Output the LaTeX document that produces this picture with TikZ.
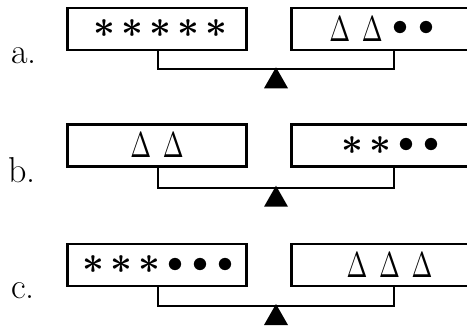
\documentclass[tikz,border=0pt]{standalone}
\usepackage{graphicx}
\usepackage{tikz}

\newcommand\symast{\makebox[28pt]{$\vcenter{\hbox{\boldmath\scalebox{3.8}{$\ast$}}}$}}
\newcommand\symdot{\makebox[25pt]{$\vcenter{\hbox{\scalebox{3.2}{$\bullet$}}}$}}
\newcommand\symtri{\makebox[32.5pt]{$\vcenter{\hbox{\scalebox{2.5}[3.6]{$\Delta$}}}$}}

\tikzset{
  pan/.style={draw, line width=2.2pt, minimum width=179pt, minimum height=42pt,
    inner sep=0pt},
  beam/.style={line width=2.2pt},
  tag/.style={anchor=base west, inner sep=0pt, font=\fontsize{36}{40}\selectfont},
}

\begin{document}
\begin{tikzpicture}[x=1pt,y=-1pt]
\useasboundingbox (0,0) rectangle (467,325);
% a.
\node[tag] (la) at (11,63) {a.};
\node[pan] (aL) at (157,28.7) {\hspace*{7pt}\symast\symast\symast\symast\symast};
\node[pan] (aR) at (381,28.7) {\symtri\symtri\symdot\symdot};
\coordinate (pa) at (276,69.3);
\draw[beam] ([xshift=1pt]aL.south) |- (pa) -| ([xshift=13pt]aR.south);
\fill (pa) ++(0,-2) -- ++(-12,21) -- ++(24,0) -- cycle;
% b.
\node[tag] (lb) at (8,182) {b.};
\node[pan] (bL) at (157,145.4) {\symtri\symtri};
\node[pan] (bR) at (381,145.4) {\hspace*{20pt}\symast\symast\symdot\symdot};
\coordinate (pb) at (276,187.7);
\draw[beam] ([xshift=1pt]bL.south) |- (pb) -| ([xshift=13pt]bR.south);
\fill (pb) ++(0,-2) -- ++(-12,21) -- ++(24,0) -- cycle;
% c.
\node[tag] (lc) at (11,298) {c.};
\node[pan] (cL) at (157,265) {\hspace*{4pt}\symast\symast\symast\symdot\symdot\symdot};
\node[pan] (cR) at (381,265) {\hspace*{17pt}\symtri\symtri\symtri};
\coordinate (pc) at (276,306);
\draw[beam] ([xshift=1pt]cL.south) |- (pc) -| ([xshift=13pt]cR.south);
\fill (pc) ++(0,-2) -- ++(-12,21) -- ++(24,0) -- cycle;
\end{tikzpicture}
\end{document}
